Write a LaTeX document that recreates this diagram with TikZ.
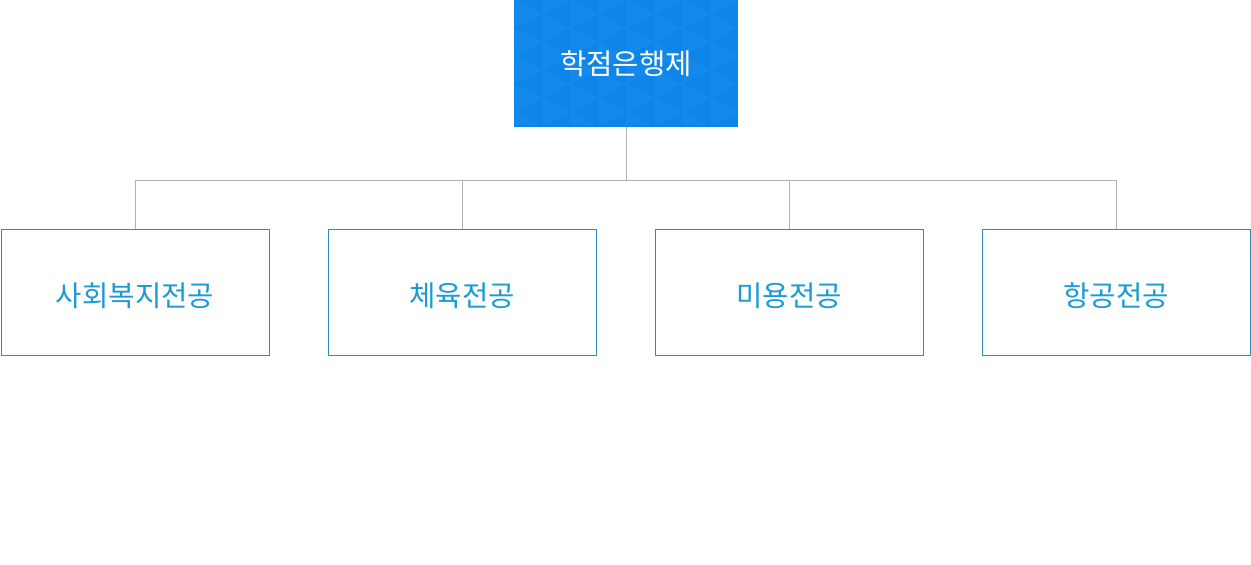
\documentclass[tikz,border=0pt]{standalone}
\usepackage{fontspec}
\newfontfamily\kor{Noto Sans CJK KR}
\definecolor{top}{RGB}{12,132,232}
\definecolor{topshade}{RGB}{18,137,235}
\definecolor{edge}{RGB}{46,138,194}
\definecolor{label}{RGB}{26,154,214}
\definecolor{wire}{RGB}{178,178,178}
\newcommand{\majorbox}[3]{
\node[major] (#1) at (#2,292) {};
\node[majortext] (#1text) at (#2,296) {#3};
}
\newcommand{\linkup}[1]{\draw[wire] (#1.north) |- (bus);}
\tikzset{
  major/.style={draw=edge, line width=0.75pt, fill=white,
    minimum width=201pt, minimum height=94.5pt, inner sep=0pt},
  majortext/.style={text=label, inner sep=0pt,
    font=\kor\fontsize{21.5}{25}\selectfont},
  hubbox/.style={text=white, minimum width=168pt,
    minimum height=95.25pt, inner sep=0pt,
    font=\kor\fontsize{21.5}{25}\selectfont},
  wire/.style={draw=wire, line width=0.75pt}
}
\begin{document}
\begin{tikzpicture}[x=0.75pt,y=-0.75pt]
\useasboundingbox (0,0) rectangle (1251,564);
% title box with faint triangles
\fill[top] (514,0) rectangle (738,127);
\begin{scope}
\clip (515,0) rectangle (737,124);
\foreach \i in {0,...,8}{
  \pgfmathsetmacro{\yy}{-14*mod(\i,2)}
  \foreach \j in {0,...,5}{
    \fill[topshade] (514+\i*28,\yy+\j*28) --++(28,14)--++(-28,14)--cycle;
  }
}
\end{scope}
\node[hubbox] (hub) at (626,63.5) {학점은행제};
\coordinate (bus) at (626,180);
\draw[wire] (hub.south) -- (bus);
\majorbox{welfare}{135}{사회복지전공}
\majorbox{sports}{462}{체육전공}
\majorbox{beauty}{789}{미용전공}
\majorbox{aviation}{1116}{항공전공}
\linkup{welfare}\linkup{sports}\linkup{beauty}\linkup{aviation}
\end{tikzpicture}
\end{document}
